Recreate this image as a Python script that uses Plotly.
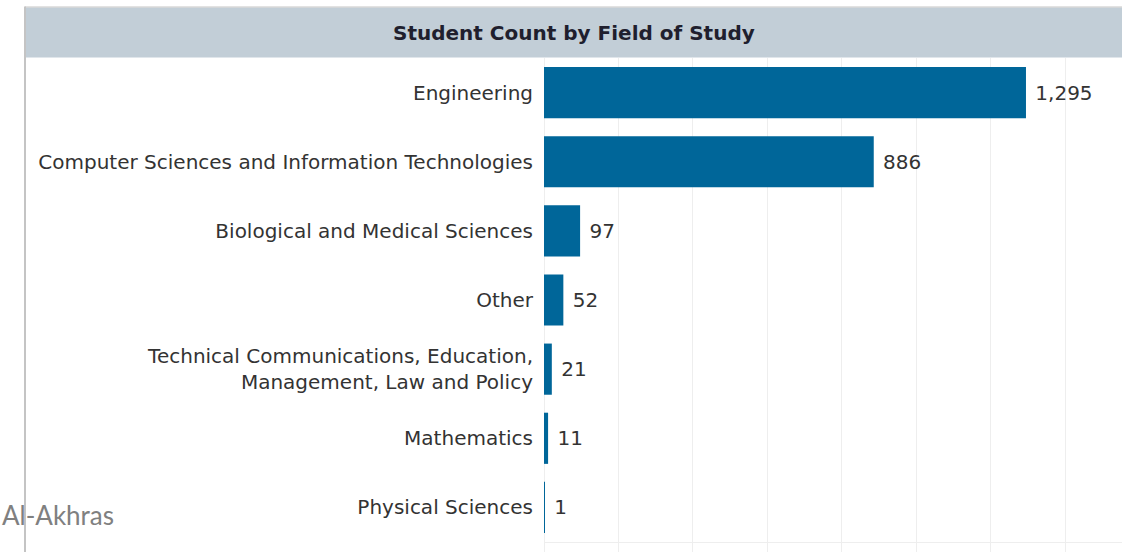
import plotly.graph_objects as go

# ---- data ----
fields = [
    "Engineering",
    "Computer Sciences and Information Technologies",
    "Biological and Medical Sciences",
    "Other",
    "Technical Communications, Education,<br>Management, Law and Policy",
    "Mathematics",
    "Physical Sciences",
]
counts = [1295, 886, 97, 52, 21, 11, 1]
title_text = "Student Count by Field of Study"
watermark = "Al-Akhras"

# ---- layout geometry (pixels) ----
W, H = 1122, 552
L, R, T, B = 544, 0, 58, 10
PW, PH = W - L - R, H - T - B


def px_x(x):
    return (x - L) / PW


def px_y(y):
    return (H - B - y) / PH


fig = go.Figure(
    go.Bar(
        y=fields,
        x=counts,
        orientation="h",
        marker=dict(color="#006699", line=dict(width=0)),
        texttemplate="\u00a0%{x:,}",
        textposition="outside",
        cliponaxis=False,
        textfont=dict(family="DejaVu Sans", size=20, color="#333333"),
        hoverinfo="skip",
    )
)

fig.update_layout(
    width=W,
    height=H,
    margin=dict(l=L, r=R, t=T, b=B, pad=0),
    paper_bgcolor="white",
    plot_bgcolor="white",
    bargap=0.26,
    showlegend=False,
    font=dict(family="DejaVu Sans", size=20, color="#333333"),
)

fig.update_xaxes(
    range=[0, 1553],
    dtick=200,
    tick0=0,
    showgrid=True,
    gridcolor="#eeeeee",
    gridwidth=1,
    zeroline=True,
    zerolinecolor="#eeeeee",
    zerolinewidth=1,
    showline=True,
    linecolor="#eeeeee",
    linewidth=1,
    mirror=False,
    ticks="outside",
    ticklen=10,
    tickcolor="#eeeeee",
    showticklabels=False,
)

fig.update_yaxes(
    autorange=False,
    range=[6.5, -0.5],
    showgrid=False,
    zeroline=False,
    showline=False,
    ticks="",
    ticklabelstandoff=10,
    tickfont=dict(family="DejaVu Sans", size=20, color="#333333"),
)

# panel chrome: title bar, borders
fig.add_shape(
    type="rect", xref="paper", yref="paper",
    x0=px_x(25), x1=px_x(W + 5), y0=px_y(57.5), y1=px_y(7),
    fillcolor="#c2ced7", line=dict(width=0), layer="below",
)
fig.add_shape(
    type="line", xref="paper", yref="paper",
    x0=px_x(25), x1=px_x(W + 5), y0=px_y(7), y1=px_y(7),
    line=dict(color="#d8d8d8", width=1.5),
)
fig.add_shape(
    type="line", xref="paper", yref="paper",
    x0=px_x(25), x1=px_x(25), y0=px_y(6.5), y1=px_y(H + 5),
    line=dict(color="#c4c4c4", width=2),
)

fig.add_annotation(
    text="<b>" + title_text + "</b>",
    xref="paper", yref="paper",
    x=px_x(573.5), y=px_y(33),
    xanchor="center", yanchor="middle",
    showarrow=False,
    font=dict(family="DejaVu Sans", size=20, color="#1f1f2e"),
)

fig.add_annotation(
    text=watermark,
    xref="paper", yref="paper",
    x=px_x(0), y=px_y(515),
    xanchor="left", yanchor="middle",
    showarrow=False,
    font=dict(family="Lato", size=26, color="#808080"),
)

fig.write_html(
    "out.html",
    config={"displayModeBar": False},
    post_script="document.body.style.margin='0';document.body.style.overflow='hidden';",
)
